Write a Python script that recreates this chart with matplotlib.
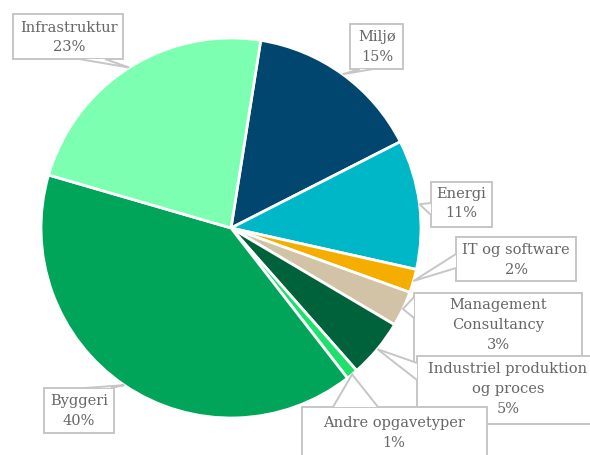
import matplotlib
matplotlib.use("Agg")
import matplotlib.pyplot as plt
import numpy as np
from matplotlib.patches import Polygon, Rectangle

categories = ["Miljø", "Energi", "IT og software", "Management\nConsultancy",
              "Industriel produktion\nog proces", "Andre opgavetyper", "Byggeri", "Infrastruktur"]
values = [15, 11, 2, 3, 5, 1, 40, 23]
colors = ["#00466e", "#00b7c7", "#f5ae00", "#d3c3a6", "#00623a", "#1fe06a", "#00a55a", "#7cffb0"]

# layout in pixels: label box (x0, y0, x1, y1), text center, callout edge and base span
boxes_px = [(350, 24, 403, 69), (431, 182, 492, 227), (456, 237, 576, 281), (414, 293, 582, 366),
            (417, 356, 596, 424), (302, 407, 487, 462), (44, 388, 114, 433), (13, 14, 123, 59)]
text_px = [(377, 47), (461, 203.5), (516, 260), (498, 325), (508, 389), (394, 433), (79, 411), (69, 37.5)]
edges = ["bottom", "left", "left", "left", "left", "top", "top", "bottom"]
bases = [(360, 373), (203, 215), (254, 268), (297, 318), (363, 380), (333, 378), (85, 111), (79, 105)]

W, H, DPI = 590, 455, 100
CX, CY, R = 231, 228, 190

def dx(px):
    return (px - CX) / R

def dy(py):
    return (CY - py) / R

fig = plt.figure(figsize=(W / DPI, H / DPI), dpi=DPI)
ax = fig.add_axes([0, 0, 1, 1])

start = 9.0  # degrees clockwise from top
wedges, _ = ax.pie(values, colors=colors, startangle=90 - start, counterclock=False,
                   radius=1.0, center=(0, 0), frame=True,
                   wedgeprops=dict(edgecolor="white", linewidth=2))
ax.set_xlim(-CX / R, (W - CX) / R)
ax.set_ylim((CY - H) / R, CY / R)
ax.set_aspect("equal")
ax.axis("off")

border = "#c6c6c6"
total = sum(values)
cum = 0.0
for i, (cat, v) in enumerate(zip(categories, values)):
    z = 5 + 3 * i
    mid = start + (cum + v / 2) / total * 360
    cum += v
    ang = np.deg2rad(mid)
    axp, ayp = np.sin(ang), np.cos(ang)

    x0, y0, x1, y1 = boxes_px[i]
    ax.add_patch(Rectangle((dx(x0), dy(y1)), (x1 - x0) / R, (y1 - y0) / R,
                           fc="white", ec=border, lw=1.4, zorder=z))
    e = edges[i]
    b0, b1 = bases[i]
    if e == "bottom":
        p1, p2 = (dx(b0), dy(y1)), (dx(b1), dy(y1))
    elif e == "top":
        p1, p2 = (dx(b0), dy(y0)), (dx(b1), dy(y0))
    elif e == "left":
        p1, p2 = (dx(x0), dy(b0)), (dx(x0), dy(b1))
    else:
        p1, p2 = (dx(x1), dy(b0)), (dx(x1), dy(b1))
    ax.add_patch(Polygon([(axp, ayp), p1, p2], closed=True, fc="white", ec="none", lw=0,
                         zorder=z + 0.5))
    ax.plot([p1[0], axp, p2[0]], [p1[1], ayp, p2[1]], color=border, lw=1.4, zorder=z + 0.6,
            solid_joinstyle="miter", solid_capstyle="butt")

    tx, ty = text_px[i]
    ax.text(dx(tx), dy(ty), f"{cat}\n{v}%", ha="center", va="center", fontsize=10.5,
            family="DejaVu Serif", color="#666666", linespacing=1.52, zorder=z + 1)

fig.savefig("out.png", dpi=DPI)
